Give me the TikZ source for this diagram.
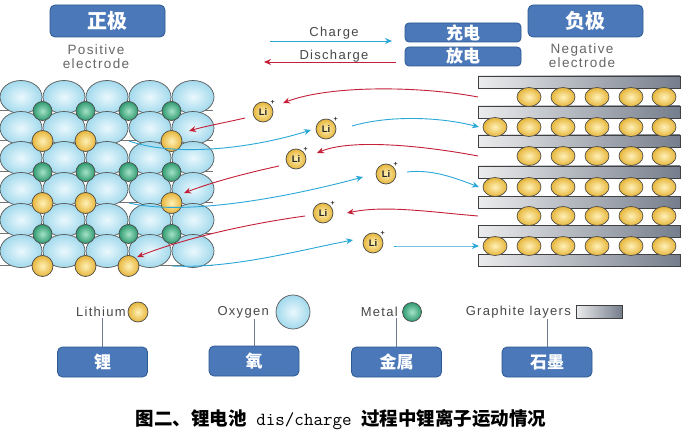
\documentclass[tikz,border=0pt]{standalone}
\usepackage{fontspec}
\setmainfont{Liberation Sans}
\newfontfamily\spaced[LetterSpace=10]{Liberation Sans}
\newfontfamily\cjk{Noto Sans CJK SC}
\usetikzlibrary{arrows.meta,shapes.geometric}
\definecolor{boxblue}{HTML}{4A78B8}
\definecolor{boxedge}{HTML}{2E5A92}
\definecolor{oxin}{HTML}{EAF8FD}
\definecolor{oxout}{HTML}{A2D9EC}
\definecolor{liin}{HTML}{FFF1B8}
\definecolor{liout}{HTML}{E6B53A}
\definecolor{mein}{HTML}{A5E3C6}
\definecolor{meout}{HTML}{2E9A70}
\definecolor{chg}{HTML}{2AA8D8}
\definecolor{dis}{HTML}{C42038}
\definecolor{slate}{HTML}{3A475C}
\definecolor{txtgray}{HTML}{484848}
\definecolor{lgline}{HTML}{6A7A90}
\pgfdeclarehorizontalshading{graphite}{100bp}{color(0bp)=(gray!80!white); color(22bp)=(white!90!gray); color(100bp)=(slate)}
\tikzset{
  oxy/.style={draw=black!65, line width=0.7pt, inner color=oxin, outer color=oxout},
  metalball/.style={draw=black!70, line width=0.7pt, inner color=mein, outer color=meout},
  liball/.style={draw=black!70, line width=0.7pt, inner color=liin, outer color=liout},
  gridline/.style={draw=black!55, double=white, double distance=0.9pt, line width=0.45pt},
  plate/.style={draw=black!75, line width=0.7pt, shading=graphite},
  liion/.style={circle, draw=black!70, line width=0.7pt, inner color=liin, outer color=liout,
    minimum size=20pt, inner sep=0pt, text=black!85, font=\fontsize{9.5}{9.5}\selectfont\bfseries,
    label={[font=\fontsize{7}{7}\selectfont\bfseries, inner sep=0pt, text=black!80]45:+}},
  chgarrow/.style={draw=chg, line width=0.9pt, -{Stealth[length=7pt,width=6pt]}},
  disarrow/.style={draw=dis, line width=0.9pt, -{Stealth[length=7pt,width=6pt]}},
  headbox/.style={draw=boxedge, fill=boxblue, rounded corners=5pt, line width=0.8pt,
    minimum width=115pt, minimum height=32pt, text=white, font=\cjk\bfseries\fontsize{20}{20}\selectfont},
  modebox/.style={draw=boxedge, fill=boxblue, rounded corners=4pt, line width=0.8pt,
    minimum width=116pt, minimum height=19pt, inner sep=0pt, text=white, font=\cjk\bfseries\fontsize{17}{17}\selectfont},
  legendbox/.style={draw=boxedge, fill=boxblue, rounded corners=5pt, line width=0.8pt,
    minimum width=90pt, minimum height=30pt, text=white, font=\cjk\bfseries\fontsize{17}{17}\selectfont},
  eltxt/.style={text=black!60, align=center, font=\spaced\fontsize{13.5}{14}\selectfont},
  modetxt/.style={text=txtgray, font=\spaced\fontsize{13}{13}\selectfont},
  lgtxt/.style={text=txtgray, font=\spaced\fontsize{13}{13}\selectfont, inner sep=1pt},
  lgline/.style={draw=lgline, line width=1pt}
}
\begin{document}
\begin{tikzpicture}[x=1pt,y=-1pt]
\useasboundingbox (0,0) rectangle (683,433);
\fill[white] (0,0) rectangle (683,433);

% ---------- headers ----------
\node[headbox] (pos) at (107.5,21) {正极};
\node[headbox] (neg) at (585.5,21) {负极};
\node[eltxt] (postxt) at (96,56.5) {Positive\\electrode};
\node[eltxt] (negtxt) at (582,55.5) {Negative\\electrode};

\node[modebox] (chgbox) at (463,32.5) {充电};
\node[modebox] (disbox) at (463,56.5) {放电};
\node[modetxt] (chgtxt) at (334,33) {Charge};
\node[modetxt] (distxt) at (334,56) {Discharge};
\coordinate (c1) at (270,41);
\coordinate (c2) at (392,41);
\coordinate (d1) at (396,62);
\coordinate (d2) at (264,62);
\draw[chgarrow] (c1) -- (c2);
\draw[disarrow] (d1) -- (d2);

% ---------- positive electrode lattice ----------
\foreach \x in {42.5,85.5,128.5,171.5} \draw[gridline] (\x,80) -- (\x,270);
\foreach \y in {111,141,172,203,234,266} \draw[gridline] (0,\y) -- (213,\y);
\foreach \x in {21,64,107,150,193}
  \foreach \y in {97,128,158,189,220,251}
    \path[oxy] (\x,\y) ellipse [x radius=21pt, y radius=16.5pt];
\foreach \x in {42.5,85.5,128.5,171.5}
  \foreach \y in {111,172,234}
    \path[metalball] (\x,\y) circle [radius=9.5pt];
\foreach \x/\y in {42.5/141,85.5/141,171.5/141,42.5/203,85.5/203,171.5/203,42.5/266,85.5/266,128.5/266}
  \path[liball] (\x,\y) circle [radius=10.5pt];

% ---------- negative electrode graphite ----------
\foreach \y in {82,112,141,172,202,231,260}
  \path[plate] (478,\y-6) rectangle (680,\y+6);
\foreach \y in {97,156,216}
  \foreach \x in {529,563,597,631,664}
    \path[liball] (\x,\y) ellipse [x radius=12pt, y radius=9.5pt];
\foreach \y in {127,187,246}
  \foreach \x in {495,529,563,597,631,664}
    \path[liball] (\x,\y) ellipse [x radius=12pt, y radius=9.5pt];

% ---------- connector end points ----------
\coordinate (g1) at (478,97);
\coordinate (g2) at (479,127);
\coordinate (g3) at (478,156);
\coordinate (g4) at (479,187);
\coordinate (g5) at (478,216);
\coordinate (g6) at (479,246);
\coordinate (v2) at (129,141);
\coordinate (v4) at (129,203);
\coordinate (v6) at (172,266);
\coordinate (t1) at (189,131);
\coordinate (t3) at (184,193);
\coordinate (t5) at (137,257);

% ---------- lithium ions ----------
\node[liion] (li1) at (263,112) {Li};
\node[liion] (li2) at (326,129) {Li};
\node[liion] (li3) at (296,159) {Li};
\node[liion] (li4) at (386,174) {Li};
\node[liion] (li5) at (323,213) {Li};
\node[liion] (li6) at (373,243) {Li};

% discharge (red)
\draw[disarrow] (g1) .. controls (420,86) and (330,85) .. ([shift={(20,-9)}]li1.center);
\draw[disarrow] ([shift={(-18,6)}]li1.center) .. controls (228,122) and (206,126) .. (t1);
\draw[disarrow] (g3) .. controls (420,145) and (350,139) .. ([shift={(21,-6)}]li3.center);
\draw[disarrow] ([shift={(-17,7)}]li3.center) .. controls (242,174) and (210,183) .. (t3);
\draw[disarrow] (g5) .. controls (430,212) and (385,205) .. ([shift={(24,0)}]li5.center);
\draw[disarrow] ([shift={(-18,3)}]li5.center) .. controls (240,225) and (180,240) .. (t5);

% charge (blue)
\draw[chgarrow] (v2) .. controls (175,157) and (250,149) .. ([shift={(-15,1)}]li2.center);
\draw[chgarrow] ([shift={(26,-3)}]li2.center) .. controls (390,115) and (440,117) .. (g2);
\draw[chgarrow] (v4) .. controls (185,216) and (285,198) .. ([shift={(-23,3)}]li4.center);
\draw[chgarrow] ([shift={(21,-2)}]li4.center) .. controls (432,169) and (455,178) .. (g4);
\draw[chgarrow] (v6) .. controls (232,269) and (300,250) .. ([shift={(-20,-3)}]li6.center);
\draw[chgarrow] ([shift={(21,3)}]li6.center) .. controls (420,246) and (450,246) .. (g6);

% ---------- legend ----------
\node[lgtxt, anchor=east] (lith) at (127,312) {Lithium};
\path[liball] (138,312) circle [radius=10pt];
\node[lgtxt, anchor=east] (oxyg) at (270,312) {Oxygen};
\path[oxy] (293,312) circle [radius=17pt];
\node[lgtxt, anchor=east] (metl) at (399,312) {Metal};
\path[metalball] (412,312) circle [radius=9.5pt];
\node[lgtxt, anchor=east] (graph) at (572,312) {Graphite layers};
\path[plate] (576,305) rectangle (622,318);

\node[legendbox] (bli) at (102.5,362) {锂};
\node[legendbox] (box) at (254,361) {氧};
\node[legendbox] (bme) at (396.5,362) {金属};
\node[legendbox] (bgr) at (547,362) {石墨};
\draw[lgline] (bli.north) -- (bli.north |- lith.south);
\draw[lgline] (box.north) -- (box.north |- oxyg.south);
\draw[lgline] (bme.north) -- (bme.north |- metl.south);
\draw[lgline] (bgr.north) -- (bgr.north |- graph.south);

% ---------- caption ----------
\node (cap) at (341,420) {\cjk\bfseries\fontsize{18.5}{18.5}\selectfont 图二、锂电池{\ttfamily\mdseries\fontsize{18.5}{18.5}\selectfont\ dis/charge\ }过程中锂离子运动情况};
\end{tikzpicture}
\end{document}
